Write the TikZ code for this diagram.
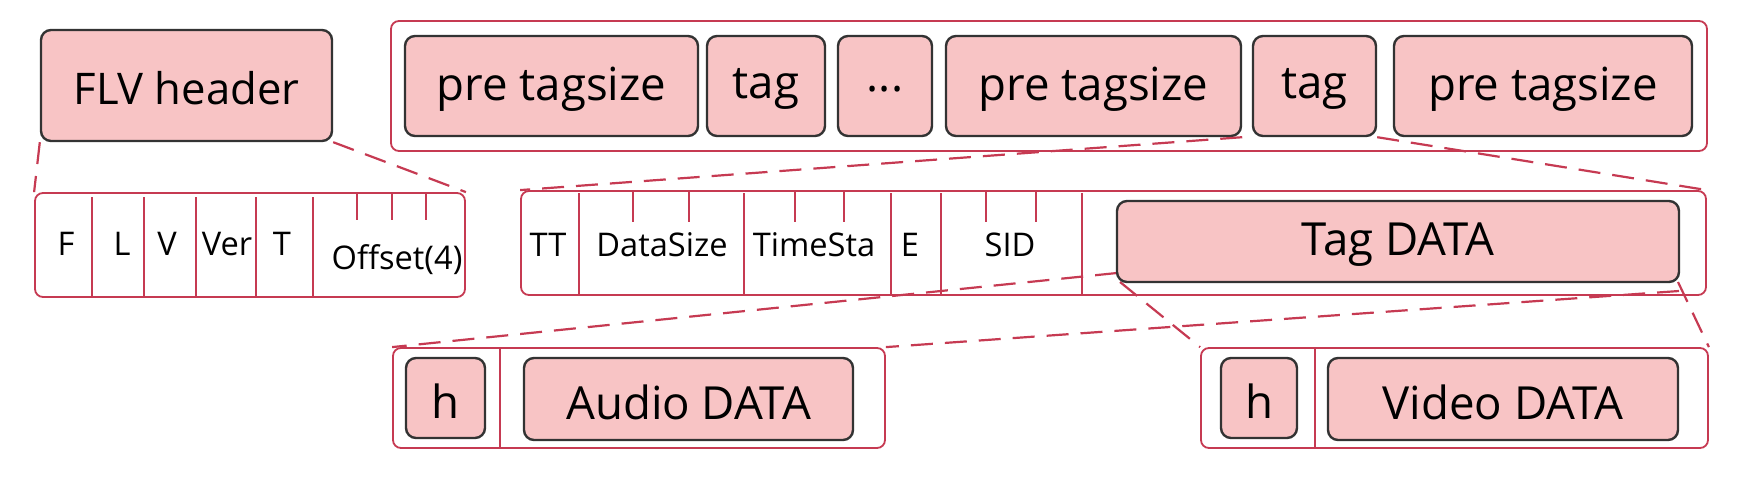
\documentclass[tikz,border=0pt]{standalone}
\usepackage{fontspec}
\setmainfont{Open Sans}
\usetikzlibrary{fit}
\definecolor{pinkfill}{HTML}{F8C4C5}
\definecolor{crim}{HTML}{C63A52}
\definecolor{dark}{HTML}{333333}
\tikzset{
  inbox/.style={draw=dark, line width=1.2pt, fill=pinkfill, rounded corners=5pt, inner sep=0pt},
  outbox/.style={draw=crim, line width=0.9pt, rounded corners=4pt, inner sep=0pt},
  divline/.style={draw=crim, line width=0.9pt},
  dashlink/.style={draw=crim, line width=1.1pt, dash pattern=on 11pt off 6pt},
  big/.style={inner sep=0pt, yshift=-1.5pt, font=\fontsize{22.8}{26}\selectfont},
  small/.style={inner sep=0pt, font=\fontsize{16.3}{19}\selectfont}
}
\begin{document}
\begin{tikzpicture}[x=0.5pt,y=-0.5pt]
\useasboundingbox (0,0) rectangle (1746,482);
% FLV header
\node[inbox, fit={(41,30) (332,141)}] (flv) {};
\node[big, font=\fontsize{21.8}{25}\selectfont] (flvt) at (flv.center) {FLV header};
% header fields
\node[outbox, fit={(35,193) (465,297)}] (hdr) {};
\foreach \x in {92,144,196,256,313} \draw[divline] (\x,197) -- (\x,297);
\foreach \x in {357,392,426} \draw[divline] (\x,193) -- (\x,220);
\node[small] (f1) at (66,244) {F};
\node[small] (f2) at (122,244) {L};
\node[small] (f3) at (167,244) {V};
\node[small] (f4) at (227,244) {Ver};
\node[small] (f5) at (282,244) {T};
\node[small] (f6) at (397,260) {Offset(4)};
% top container
\node[outbox, fit={(391,21) (1707,151)}] (top) {};
\node[inbox, fit={(405,36) (698,136)}] (pre1) {};
\node[big] (pre1t) at (pre1.center) {pre tagsize};
\node[inbox, fit={(707,36) (825,136)}] (tag1) {};
\node[big] (tag1t) at (tag1.center) {tag};
\node[inbox, fit={(838,36) (932,136)}] (dots) {};
\node[big] (dotst) at (dots.center) {...};
\node[inbox, fit={(946,36) (1241,136)}] (pre2) {};
\node[big] (pre2t) at (pre2.center) {pre tagsize};
\node[inbox, fit={(1253,36) (1376,136)}] (tag2) {};
\node[big] (tag2t) at (tag2.center) {tag};
\node[inbox, fit={(1394,36) (1692,136)}] (pre3) {};
\node[big] (pre3t) at (pre3.center) {pre tagsize};
% tag row
\node[outbox, fit={(521,191) (1706,295)}] (trow) {};
\foreach \x in {579,744,891,941,1082} \draw[divline] (\x,193) -- (\x,295);
\foreach \x in {633,689,795,844,986,1036} \draw[divline] (\x,191) -- (\x,222);
\node[small] (t1) at (548,245) {TT};
\node[small] (t2) at (662,245) {DataSize};
\node[small] (t3) at (814,245) {TimeSta};
\node[small] (t4) at (910,245) {E};
\node[small] (t5) at (1010,245) {SID};
% audio
\node[outbox, fit={(393,348) (885,448)}] (audio) {};
\draw[divline] (500,348) -- (500,448);
\node[inbox, fit={(406,358) (485,438)}] (ah) {};
\node[big] (aht) at (ah.center) {h};
\node[inbox, fit={(524,358) (853,440)}] (adata) {};
\node[big] (adatat) at (adata.center) {Audio DATA};
% video
\node[outbox, fit={(1201,348) (1708,448)}] (video) {};
\draw[divline] (1315,348) -- (1315,448);
\node[inbox, fit={(1221,358) (1297,438)}] (vh) {};
\node[big] (vht) at (vh.center) {h};
\node[inbox, fit={(1328,358) (1678,440)}] (vdata) {};
\node[big] (vdatat) at (vdata.center) {Video DATA};
% dashed links (drawn before Tag DATA so they pass behind it)
\coordinate (tdl) at (1117,273);
\coordinate (tdr) at (1679,291);
\draw[dashlink] (flv.south west) -- (hdr.north west);
\draw[dashlink] (flv.south east) -- (hdr.north east);
\draw[dashlink] (pre2.south east) -- (trow.north west);
\draw[dashlink] (tag2.south east) -- (trow.north east);
\draw[dashlink] (tdl) -- (audio.north west);
\draw[dashlink] (tdr) -- (audio.north east);
\draw[dashlink] (1120,282) -- (video.north west);
\draw[dashlink] (1678,282) -- (video.north east);
% Tag DATA
\node[inbox, fit={(1117,201) (1679,282)}] (tdata) {};
\node[big] (tdatat) at (tdata.center) {Tag DATA};
\end{tikzpicture}
\end{document}
